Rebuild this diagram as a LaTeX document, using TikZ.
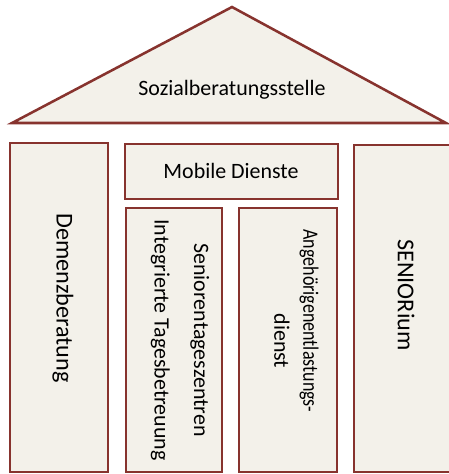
\documentclass[tikz,border=0pt]{standalone}
\usepackage{fontspec}
\setmainfont{Carlito}
\usepackage{tikz}
\definecolor{roofred}{HTML}{87332E}
\definecolor{paper}{HTML}{F3F1EA}
\tikzset{
  pillar/.style={draw=roofred, line width=1.8pt, fill=paper},
  caption/.style={font=\fontsize{15.6}{19}\selectfont, inner sep=0pt, align=center},
  bigcaption/.style={caption, font=\fontsize{17.2}{21}\selectfont}
}

\begin{document}
\begin{tikzpicture}[x=0.025cm, y=-0.025cm]
    \useasboundingbox (0,0) rectangle (448,474);

    % Roof
    \draw[pillar, line join=miter] (12,123) -- (232,7) -- (446,123) -- cycle;
    \node[caption] (roof) at (232,90) {Sozialberatungsstelle};

    % Beam on top of the middle pillars
    \draw[pillar] (125,144) rectangle (338,199);
    \node[caption] (mobile) at (231,171) {Mobile Dienste};

    % Pillars
    \draw[pillar] (10,143) rectangle (108,472);
    \draw[pillar] (126,208) rectangle (222,472);
    \draw[pillar] (239,208) rectangle (337,472);
    \draw[pillar] (354,145) rectangle (455,472);

    % Pillar labels
    \node[bigcaption, rotate=-90] (demenz) at (63,298) {Demenzberatung};
    \node[caption, rotate=-90] (tages) at (180,340) {Seniorentageszentren\\[9pt]Integrierte Tagesbetreuung};
    \node[caption, rotate=-90] (entlast) at (309,321) {\scalebox{0.82}[1]{Angehörigenentlastungs-}};
    \node[caption, rotate=-90] (dienst) at (282,341) {dienst};
    \node[bigcaption, rotate=-90] (senior) at (406,295) {SENIORium};
\end{tikzpicture}
\end{document}
